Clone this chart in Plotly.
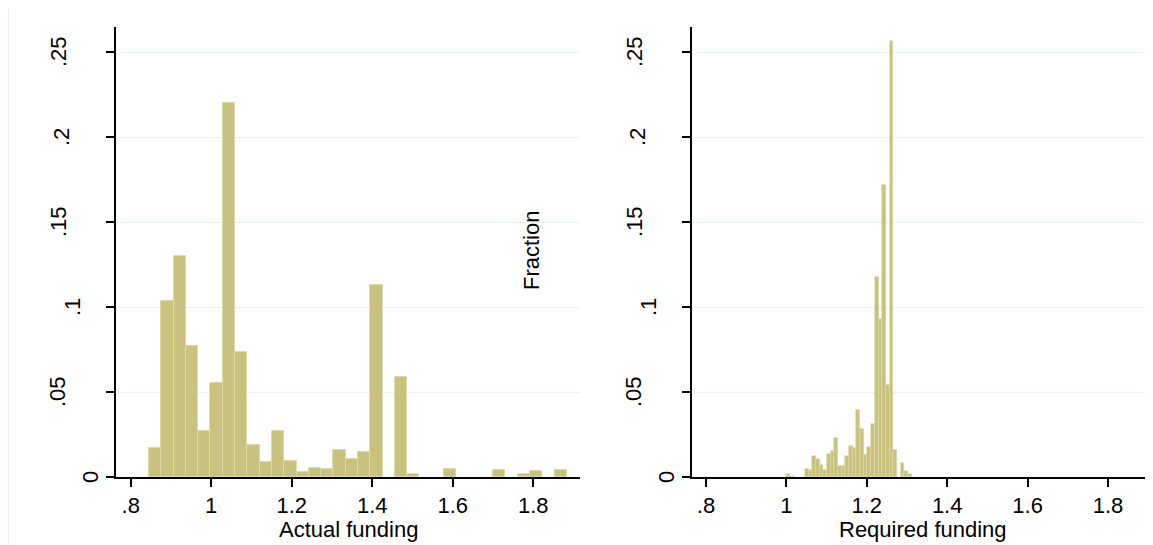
import plotly.graph_objects as go

# ---- data ----
# Left histogram: Actual funding (34 equal bins)
actual_start = 0.8455
actual_width = 0.03053
actual_frac = [0.0172, 0.1035, 0.130, 0.0769, 0.027, 0.0555, 0.2202, 0.0735,
               0.0186, 0.0088, 0.027, 0.0094, 0.0031, 0.0055, 0.0045, 0.0157,
               0.0106, 0.0149, 0.1131, 0.0, 0.0588, 0.0018, 0.0, 0.0,
               0.0047, 0.0, 0.0, 0.0, 0.0039, 0.0, 0.0018, 0.0035, 0.0, 0.0039]

# Right histogram: Required funding (34 equal bins)
required_start = 1.0
required_width = 0.00917
required_frac = [0.002, 0.0008, 0.0, 0.0, 0.0, 0.0049, 0.0043, 0.0125, 0.0108,
                 0.0069, 0.0043, 0.0137, 0.0151, 0.0231, 0.0063, 0.0067, 0.0122,
                 0.0182, 0.0171, 0.0392, 0.028, 0.0127, 0.0176, 0.031, 0.1176,
                 0.0928, 0.1716, 0.054, 0.2563, 0.016, 0.0, 0.0082, 0.0035, 0.0016]

x_tickvals = [0.8, 1.0, 1.2, 1.4, 1.6, 1.8]
x_ticktext = [".8", "1", "1.2", "1.4", "1.6", "1.8"]
y_tickvals = [0, 0.05, 0.1, 0.15, 0.2, 0.25]
y_ticktext = ["0", ".05", ".1", ".15", ".2", ".25"]

x_title_left = "Actual funding"
x_title_right = "Required funding"
y_title = "Fraction"

# ---- styling ----
# the page body has an 8px margin, so the figure is 8px smaller than the window
OFF = 8
W, H = 1153 - OFF, 545 - OFF
FILL = "rgb(201,193,126)"
EDGE = "rgb(222,217,168)"
GRID = "#E9F1F3"
FONT = "Liberation Sans, Arial, sans-serif"
FS = 22
# distance (px) from the y axis line to the centre of each rotated y label
YLAB_GAP = {"0": 26, ".05": 59, ".1": 44, ".15": 58, ".2": 55, ".25": 58}
AXIS_LEFT_PX = {"y": 116, "y2": 692}


def centers(start, width, n):
    return [start + width * (k + 0.5) for k in range(n)]


def clean(vals):
    return [v if v > 0 else None for v in vals]


def px_x(p):
    return (p - OFF) / W


def px_y(p):
    return 1 - (p - OFF) / H


fig = go.Figure()
fig.add_trace(go.Bar(
    x=centers(actual_start, actual_width, len(actual_frac)),
    y=clean(actual_frac), width=actual_width,
    marker=dict(color=FILL, line=dict(color=EDGE, width=1)),
    xaxis="x", yaxis="y", showlegend=False, hoverinfo="x+y"))
fig.add_trace(go.Bar(
    x=centers(required_start, required_width, len(required_frac)),
    y=clean(required_frac), width=required_width,
    marker=dict(color=FILL, line=dict(color=EDGE, width=0.6)),
    xaxis="x2", yaxis="y2", showlegend=False, hoverinfo="x+y"))

y_dom = [px_y(477), px_y(27)]
y_range = [0, (477 - 27) / 1700.0]

common_x = dict(
    tickvals=x_tickvals, ticktext=x_ticktext,
    ticks="outside", ticklen=8, tickwidth=1.5, tickcolor="black",
    showline=True, linecolor="black", linewidth=1.5,
    showgrid=False, zeroline=False,
    tickfont=dict(family=FONT, size=FS, color="black"),
)
common_y = dict(
    tickvals=y_tickvals, ticktext=y_ticktext, showticklabels=False,
    ticks="outside", ticklen=8, tickwidth=1.5, tickcolor="black",
    showline=True, linecolor="black", linewidth=1.5,
    showgrid=True, gridcolor=GRID, gridwidth=1.3, zeroline=False,
    range=y_range, domain=y_dom,
)

annotations = []
for yref in ("y", "y2"):
    for val, txt in zip(y_tickvals, y_ticktext):
        annotations.append(dict(
            text=txt, textangle=-90, showarrow=False,
            xref="paper", yref=yref,
            x=px_x(AXIS_LEFT_PX[yref] - YLAB_GAP[txt]), y=val,
            xanchor="center", yanchor="middle",
            font=dict(family=FONT, size=FS, color="black")))
annotations.append(dict(
    text=y_title, textangle=-90, showarrow=False,
    xref="paper", yref="paper", x=px_x(531), y=px_y(251),
    xanchor="center", yanchor="middle",
    font=dict(family=FONT, size=FS, color="black")))
for xdom, txt in (("x domain", x_title_left), ("x2 domain", x_title_right)):
    annotations.append(dict(
        text=txt, showarrow=False, xref=xdom, yref="paper",
        x=0.5, y=px_y(529), xanchor="center", yanchor="middle",
        borderpad=0,
        font=dict(family=FONT, size=FS, color="black")))

fig.update_layout(
    width=W, height=H,
    margin=dict(l=0, r=0, t=0, b=0),
    paper_bgcolor="white", plot_bgcolor="white",
    bargap=0,
    xaxis=dict(common_x, domain=[px_x(116), px_x(580)],
               range=[0.7635, 1.916], anchor="y"),
    yaxis=dict(common_y, anchor="x"),
    xaxis2=dict(common_x, domain=[px_x(692), 1.0],
                range=[0.7652, 1.912], anchor="y2"),
    yaxis2=dict(common_y, anchor="x2"),
    annotations=annotations,
    shapes=[dict(type="line", xref="paper", yref="paper",
                 x0=px_x(8.5), x1=px_x(8.5), y0=0, y1=px_y(4),
                 line=dict(color=GRID, width=1))],
)

fig.write_html("out.html")
